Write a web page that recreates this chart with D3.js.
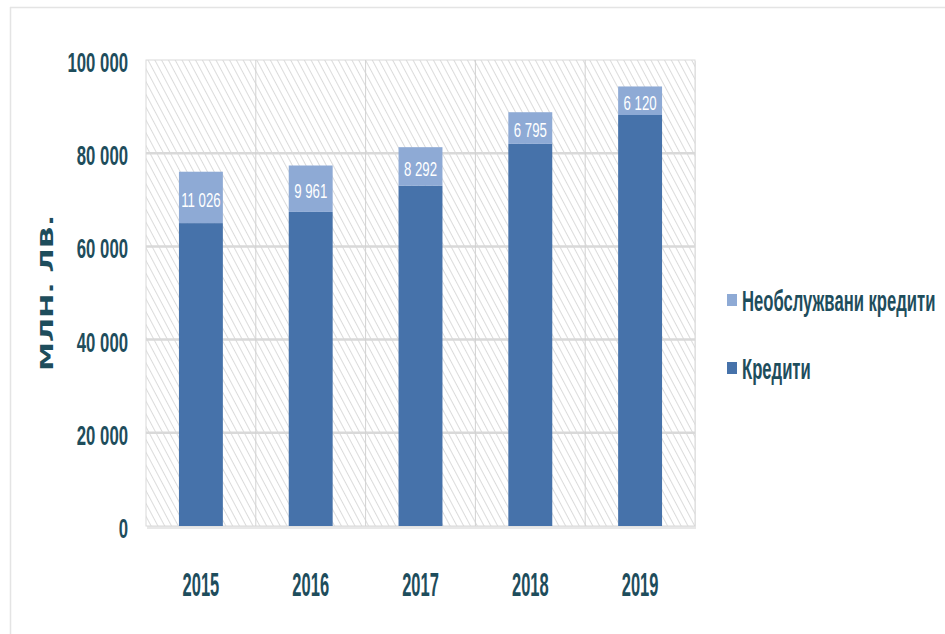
<!DOCTYPE html>
<html>
<head>
<meta charset="utf-8">
<script src="https://cdn.jsdelivr.net/npm/d3@7"></script>
<style>
  body { margin: 0; background: #fff; }
  text { font-family: "Liberation Sans", Arial, sans-serif; font-weight: bold; }
</style>
</head>
<body>
<div class="canvas"></div>
<script>
const years = ["2015", "2016", "2017", "2018", "2019"];
const credits = [65000, 67400, 73000, 82000, 88200];
const nonPerforming = [11026, 9961, 8292, 6795, 6120];
const yTicks = [0, 20000, 40000, 60000, 80000, 100000];
const seriesNames = ["Кредити", "Необслужвани кредити"];

const dims = { width: 945, height: 634 };
const plot = { left: 146, right: 695, top: 60, bottom: 526 };
const textColor = "#1e4d5c";
const colors = { base: "#4672aa", top: "#8eaad5" };

// the reference uses a tall condensed face, so squeeze text horizontally
const condense = (sel, sx) => sel.attr("transform", `scale(${sx}, 1)`);
const fmt = (d) => d3.format(",")(d).replace(/,/g, " ");

const svg = d3
  .select(".canvas")
  .append("svg")
  .attr("width", dims.width)
  .attr("height", dims.height);

// outer frame (top and left only visible)
svg.append("line")
  .attr("x1", 10).attr("x2", dims.width).attr("y1", 7.5).attr("y2", 7.5)
  .attr("stroke", "#e4e4e4").attr("stroke-width", 1.5);
svg.append("line")
  .attr("x1", 10.5).attr("x2", 10.5).attr("y1", 7).attr("y2", dims.height)
  .attr("stroke", "#e4e4e4").attr("stroke-width", 1.5);

const defs = svg.append("defs");
const hatch = defs.append("pattern")
  .attr("id", "hatch")
  .attr("patternUnits", "userSpaceOnUse")
  .attr("width", 6)
  .attr("height", 6)
  .attr("patternTransform", "rotate(-28)");
hatch.append("rect").attr("width", 6).attr("height", 6).attr("fill", "#fff");
hatch.append("line")
  .attr("x1", 0).attr("x2", 0).attr("y1", 0).attr("y2", 6)
  .attr("stroke", "#d2d2d2").attr("stroke-width", 1.6);

const x = d3.scaleBand()
  .domain(years)
  .range([plot.left, plot.right])
  .paddingInner(0)
  .paddingOuter(0);

const y = d3.scaleLinear()
  .domain([0, 100000])
  .range([plot.bottom, plot.top]);

// plot area with shadow
svg.append("rect")
  .attr("x", plot.left + 1)
  .attr("y", plot.top + 1)
  .attr("width", plot.right - plot.left)
  .attr("height", plot.bottom - plot.top + 2)
  .attr("fill", "#e8e8e8");
svg.append("rect")
  .attr("x", plot.left)
  .attr("y", plot.top)
  .attr("width", plot.right - plot.left)
  .attr("height", plot.bottom - plot.top)
  .attr("fill", "url(#hatch)")
  .attr("stroke", "#d9d9d9")
  .attr("stroke-width", 1);

// horizontal gridlines
svg.append("g")
  .selectAll("line")
  .data(yTicks.slice(1, -1))
  .join("line")
  .attr("x1", plot.left)
  .attr("x2", plot.right)
  .attr("y1", (d) => y(d))
  .attr("y2", (d) => y(d))
  .attr("stroke", "#d9d9d9")
  .attr("stroke-width", 2.5);

// vertical gridlines between categories
svg.append("g")
  .selectAll("line")
  .data(years.slice(1))
  .join("line")
  .attr("x1", (d) => x(d))
  .attr("x2", (d) => x(d))
  .attr("y1", plot.top)
  .attr("y2", plot.bottom)
  .attr("stroke", "#d2d2d2")
  .attr("stroke-width", 1);

// y axis labels
const yAxis = d3.axisLeft(y)
  .tickValues(yTicks)
  .tickSize(0)
  .tickPadding(0)
  .tickFormat(fmt);
const yg = svg.append("g")
  .attr("transform", `translate(${plot.left - 18}, 2)`)
  .call(yAxis);
yg.select(".domain").remove();
yg.selectAll("text")
  .attr("fill", textColor)
  .attr("font-size", 27)
  .attr("font-family", null)
  .attr("dy", "0.35em")
  .call(condense, 0.62);

// x axis labels
const xAxis = d3.axisBottom(x).tickSize(0).tickPadding(0);
const xg = svg.append("g")
  .attr("transform", `translate(0, 584)`)
  .call(xAxis);
xg.select(".domain").remove();
xg.selectAll("text")
  .attr("fill", textColor)
  .attr("font-size", 33)
  .attr("font-family", null)
  .attr("dy", "0.35em")
  .call(condense, 0.5);

// stacked data
const rows = years.map((yr, i) => ({ year: yr, base: credits[i], top: nonPerforming[i] }));
const stack = d3.stack().keys(["base", "top"])(rows);

const barW = x.bandwidth() * 0.4;

svg.append("g")
  .selectAll("g")
  .data(stack)
  .join("g")
  .attr("fill", (s) => colors[s.key])
  .selectAll("rect")
  .data((s) => s)
  .join("rect")
  .attr("x", (d) => x(d.data.year) + (x.bandwidth() - barW) / 2)
  .attr("y", (d) => y(d[1]))
  .attr("width", barW)
  .attr("height", (d) => y(d[0]) - y(d[1]));

// data labels on top segment
svg.append("g")
  .selectAll("g")
  .data(stack[1])
  .join("g")
  .attr("transform", (d) => `translate(${x(d.data.year) + x.bandwidth() / 2}, ${(y(d[0]) + y(d[1])) / 2 + 2})`)
  .append("text")
  .attr("dy", "0.35em")
  .attr("text-anchor", "middle")
  .attr("fill", "#fff")
  .attr("font-size", 21)
  .style("font-weight", "normal")
  .text((d) => fmt(d.data.top))
  .call(condense, 0.63);

// y axis title
svg.append("text")
  .attr("transform", `translate(53, 293) rotate(-90)`)
  .attr("text-anchor", "middle")
  .attr("fill", textColor)
  .attr("font-size", 18)
  .style("font-family", "'DejaVu Sans', sans-serif")
  .attr("textLength", 156)
  .attr("lengthAdjust", "spacingAndGlyphs")
  .text("МЛН. ЛВ.");

// legend
const legendItems = [
  { name: seriesNames[1], color: colors.top, y: 300 },
  { name: seriesNames[0], color: colors.base, y: 368 },
];
const lg = svg.append("g")
  .selectAll("g")
  .data(legendItems)
  .join("g")
  .attr("transform", (d) => `translate(727, ${d.y})`);
lg.append("rect")
  .attr("x", 0).attr("y", -6)
  .attr("width", 10).attr("height", 12)
  .attr("fill", (d) => d.color);
lg.append("g")
  .attr("transform", "translate(15, 0)")
  .append("text")
  .attr("dy", "0.35em")
  .attr("fill", textColor)
  .attr("font-size", 30)
  .text((d) => d.name)
  .call(condense, 0.555);
</script>
</body>
</html>
